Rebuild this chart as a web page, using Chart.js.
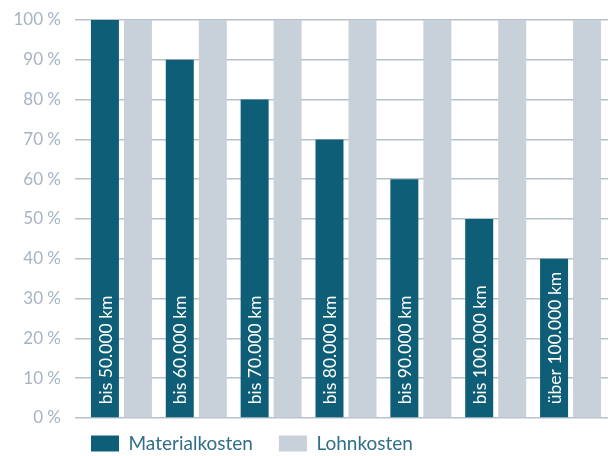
<!DOCTYPE html>
<html>
<head>
<meta charset="utf-8">
<script src="https://cdn.jsdelivr.net/npm/chart.js@4"></script>
<style>
  html, body { margin: 0; padding: 0; background: #fff; }
  #wrap { width: 608px; height: 456px; }
</style>
</head>
<body>
<div id="wrap"><canvas id="kostenChart"></canvas></div>
<script>
// Kostenverteilung nach Laufleistung
const categories = ['bis 50.000 km', 'bis 60.000 km', 'bis 70.000 km', 'bis 80.000 km',
                    'bis 90.000 km', 'bis 100.000 km', 'über 100.000 km'];
const materialkosten = [100, 90, 80, 70, 60, 50, 40];
const lohnkosten = [100, 100, 100, 100, 100, 100, 100];
const yTicks = [0, 10, 20, 30, 40, 50, 60, 70, 80, 90, 100];

const DARK = '#0f5e78';
const LIGHT = '#c8d0d9';
const GRID = '#b7c1cc';

// category labels written vertically inside the dark bars
const barLabels = {
    id: 'barLabels',
    afterDatasetsDraw(chart) {
        const ctx = chart.ctx;
        const meta = chart.getDatasetMeta(0);
        ctx.save();
        ctx.fillStyle = '#ffffff';
        ctx.font = '17.5px Lato';
        ctx.textAlign = 'left';
        ctx.textBaseline = 'middle';
        meta.data.forEach((bar, i) => {
            ctx.save();
            ctx.translate(bar.x, bar.base - 13);
            ctx.rotate(-Math.PI / 2);
            ctx.fillText(categories[i], 0, 1);
            ctx.restore();
        });
        ctx.restore();
    }
};

// move legend so it starts under the first bar
const legendShift = {
    id: 'legendShift',
    afterLayout(chart) {
        const lg = chart.legend;
        if (!lg) return;
        const pad = lg.options.labels.padding;
        const dx = lg.left - (91 - pad);
        lg.left -= dx;
        lg.right -= dx;
        lg.top = 436 - pad - 2;
    }
};

new Chart(document.getElementById('kostenChart'), {
    type: 'bar',
    data: {
        labels: categories,
        datasets: [{
            label: 'Materialkosten',
            data: materialkosten,
            backgroundColor: DARK
        }, {
            label: 'Lohnkosten',
            data: lohnkosten,
            backgroundColor: LIGHT
        }]
    },
    options: {
        responsive: true,
        maintainAspectRatio: false,
        animation: false,
        datasets: {
            bar: { categoryPercentage: 0.882, barPercentage: 0.848 }
        },
        layout: { padding: { top: 20, left: 0, right: 0, bottom: -17 } },
        plugins: {
            tooltip: { enabled: false },
            legend: {
                position: 'bottom',
                align: 'start',
                fullSize: false,
                labels: {
                    boxWidth: 28,
                    boxHeight: 16,
                    padding: 26,
                    color: '#2f6f88',
                    font: { family: 'Lato', size: 19 }
                }
            }
        },
        scales: {
            x: { display: false },
            y: {
                min: 0,
                max: 100,
                afterBuildTicks(scale) {
                    scale.ticks = yTicks.map(v => ({ value: v }));
                },
                afterFit(scale) {
                    scale.width = 84;
                    scale.paddingTop = 0;
                    scale.paddingBottom = 0;
                },
                border: { display: false },
                grid: { color: GRID, lineWidth: 1.5, tickLength: 9 },
                ticks: {
                    padding: 14,
                    color: '#a6b3c3',
                    font: { family: 'Lato', size: 17 },
                    callback: v => v + ' %'
                }
            }
        }
    },
    plugins: [barLabels, legendShift]
});
</script>
</body>
</html>
